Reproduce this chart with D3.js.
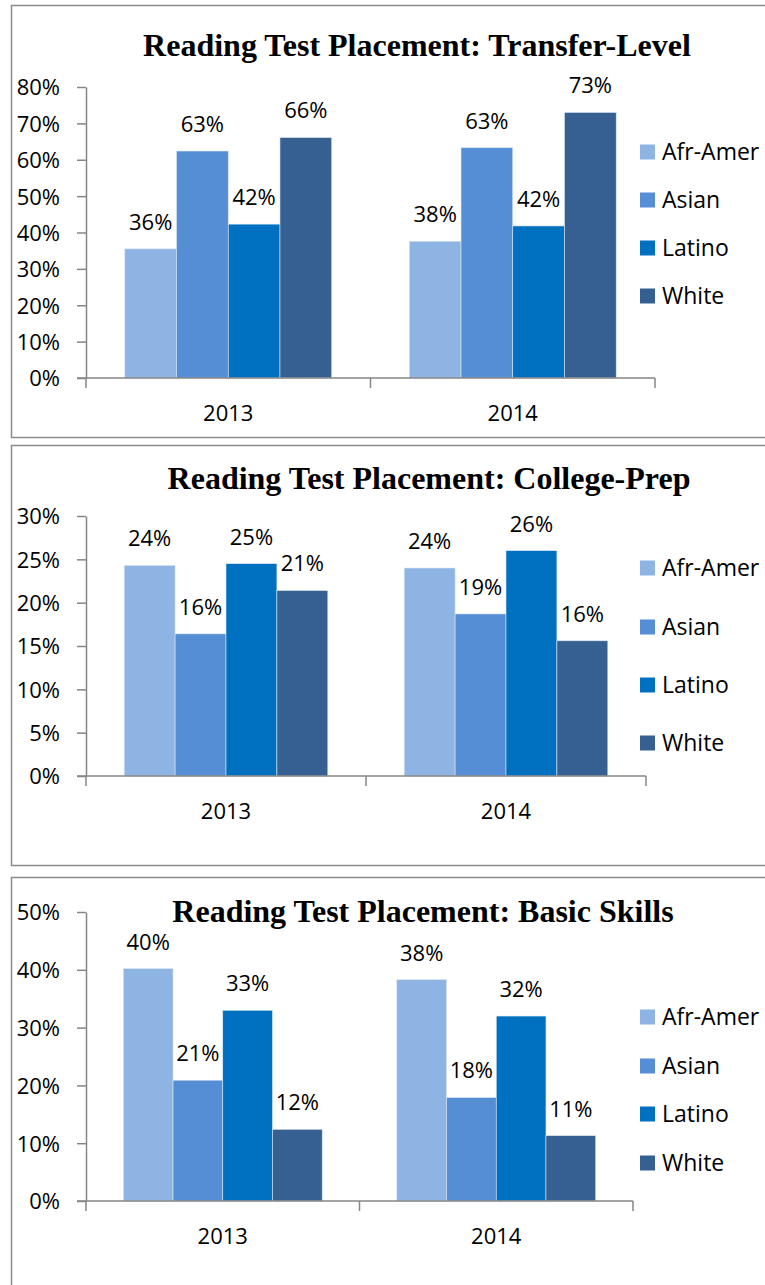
<!DOCTYPE html>
<html>
<head>
<meta charset="utf-8">
<script src="https://cdn.jsdelivr.net/npm/d3@7"></script>
<style>
  body { margin: 0; background: #fff; }
  svg { display: block; }
  .tick text { font-family: "Open Sans", sans-serif; fill: #000; }
</style>
</head>
<body>
<div id="chart-area"></div>
<script>
// categories
const years = ["2013", "2014"]
const groups = ["Afr-Amer", "Asian", "Latino", "White"]
const colors = ["#8eb4e3", "#558ed5", "#0070c0", "#376092"]

// values, one array per year, in order of groups
const transfer2013 = [0.355, 0.624, 0.423, 0.661]
const transfer2014 = [0.376, 0.633, 0.418, 0.730]
const prep2013 = [0.243, 0.164, 0.245, 0.214]
const prep2014 = [0.240, 0.187, 0.260, 0.156]
const basic2013 = [0.402, 0.209, 0.330, 0.124]
const basic2014 = [0.383, 0.179, 0.320, 0.113]

// label text shown above bars
const transferLabels = [["36%", "63%", "42%", "66%"], ["38%", "63%", "42%", "73%"]]
const prepLabels = [["24%", "16%", "25%", "21%"], ["24%", "19%", "26%", "16%"]]
const basicLabels = [["40%", "21%", "33%", "12%"], ["38%", "18%", "32%", "11%"]]

const panels = [
  { title: "Reading Test Placement: Transfer-Level", values: [transfer2013, transfer2014], labels: transferLabels,
    box: [5, 437], top: 87, bottom: 378, right: 655, yMax: 0.8, step: 0.1,
    titleX: 417, titleY: 56, legend: [152, 200, 248, 296] },
  { title: "Reading Test Placement: College-Prep", values: [prep2013, prep2014], labels: prepLabels,
    box: [445, 865], top: 516, bottom: 776, right: 646, yMax: 0.3, step: 0.05,
    titleX: 429, titleY: 489, legend: [568, 627, 685, 743] },
  { title: "Reading Test Placement: Basic Skills", values: [basic2013, basic2014], labels: basicLabels,
    box: [877, 1300], top: 912, bottom: 1201, right: 633, yMax: 0.5, step: 0.1,
    titleX: 423, titleY: 922, legend: [1017, 1066, 1114, 1163] }
]

const LEFT = 86
const WIDTH = 765
const HEIGHT = 1285
const AXIS_COLOR = "#868686"
const SANS = "'Open Sans', sans-serif"

const svg = d3.select("#chart-area").append("svg")
  .attr("width", WIDTH)
  .attr("height", HEIGHT)

panels.forEach(p => drawPanel(p))

function drawPanel(p) {
  const g = svg.append("g")

  // panel frame, right edge runs off the page
  g.append("rect")
    .attr("x", 11.5)
    .attr("y", p.box[0] + 0.5)
    .attr("width", 770)
    .attr("height", p.box[1] - p.box[0])
    .attr("fill", "#fff")
    .attr("stroke", "#8c8c8c")
    .attr("stroke-width", 1.5)

  // scales
  const x0 = d3.scaleBand().domain(years).range([LEFT, p.right])
  const bw = x0.bandwidth()
  const barW = bw / 5.5 // gap width 150%
  const x1 = d3.scaleBand().domain(groups).range([barW * 0.75, bw - barW * 0.75])
  const y = d3.scaleLinear().domain([0, p.yMax]).range([p.bottom, p.top])
  const color = d3.scaleOrdinal().domain(groups).range(colors)

  // y axis
  const yAxisCall = d3.axisLeft(y)
    .tickValues(d3.range(0, p.yMax + p.step / 2, p.step))
    .tickFormat(d3.format(".0%"))
    .tickSize(9)
    .tickSizeOuter(0)
    .tickPadding(17)
  const yAxis = g.append("g")
    .attr("transform", `translate(${LEFT}, 0)`)
    .call(yAxisCall)
  yAxis.selectAll("path, line").attr("stroke", AXIS_COLOR).attr("stroke-width", 1.5)
  yAxis.selectAll("text").attr("font-size", "22px").attr("dy", "0.36em")

  // bars
  p.values.forEach((vals, i) => {
    const yr = years[i]
    const bars = g.append("g").attr("transform", `translate(${x0(yr)}, 0)`)
    bars.selectAll("rect")
      .data(vals)
      .enter().append("rect")
      .attr("x", (d, j) => x1(groups[j]))
      .attr("y", d => y(d))
      .attr("width", x1.bandwidth())
      .attr("height", d => y(0) - y(d))
      .attr("fill", (d, j) => color(groups[j]))
      .attr("stroke", "#dbe5f1")
      .attr("stroke-width", 0.6)
    bars.selectAll("text")
      .data(vals)
      .enter().append("text")
      .attr("x", (d, j) => x1(groups[j]) + x1.bandwidth() / 2)
      .attr("y", d => y(d) - 27)
      .attr("dy", "0.36em")
      .attr("text-anchor", "middle")
      .attr("font-family", SANS)
      .attr("font-size", "22px")
      .text((d, j) => p.labels[i][j])
  })

  // x axis: baseline, boundary ticks, year labels
  const xAxis = g.append("g").attr("transform", `translate(0, ${p.bottom})`)
  xAxis.append("line")
    .attr("x1", LEFT - 9).attr("x2", p.right)
    .attr("stroke", AXIS_COLOR).attr("stroke-width", 1.5)
  xAxis.selectAll(".bound")
    .data(years.map(d => x0(d)).concat([x0(years[years.length - 1]) + bw]))
    .enter().append("line")
    .attr("class", "bound")
    .attr("x1", d => d).attr("x2", d => d)
    .attr("y1", 0).attr("y2", 10)
    .attr("stroke", AXIS_COLOR).attr("stroke-width", 1.5)
  xAxis.selectAll(".year")
    .data(years)
    .enter().append("text")
    .attr("class", "year")
    .attr("x", d => x0(d) + bw / 2)
    .attr("y", 35)
    .attr("dy", "0.36em")
    .attr("text-anchor", "middle")
    .attr("font-family", SANS)
    .attr("font-size", "22px")
    .text(d => d)

  // title
  g.append("text")
    .attr("x", p.titleX)
    .attr("y", p.titleY)
    .attr("text-anchor", "middle")
    .attr("font-family", "'Liberation Serif', 'Times New Roman', serif")
    .attr("font-weight", "bold")
    .attr("font-size", "32px")
    .text(p.title)

  // legend
  const legend = g.selectAll(".legend")
    .data(groups)
    .enter().append("g")
    .attr("class", "legend")
    .attr("transform", (d, i) => `translate(640, ${p.legend[i]})`)
  legend.append("rect")
    .attr("y", -7.5)
    .attr("width", 15)
    .attr("height", 15)
    .attr("fill", d => color(d))
  legend.append("text")
    .attr("x", 22)
    .attr("dy", "0.36em")
    .attr("font-family", SANS)
    .attr("font-size", "23px")
    .text(d => d)
}
</script>
</body>
</html>
